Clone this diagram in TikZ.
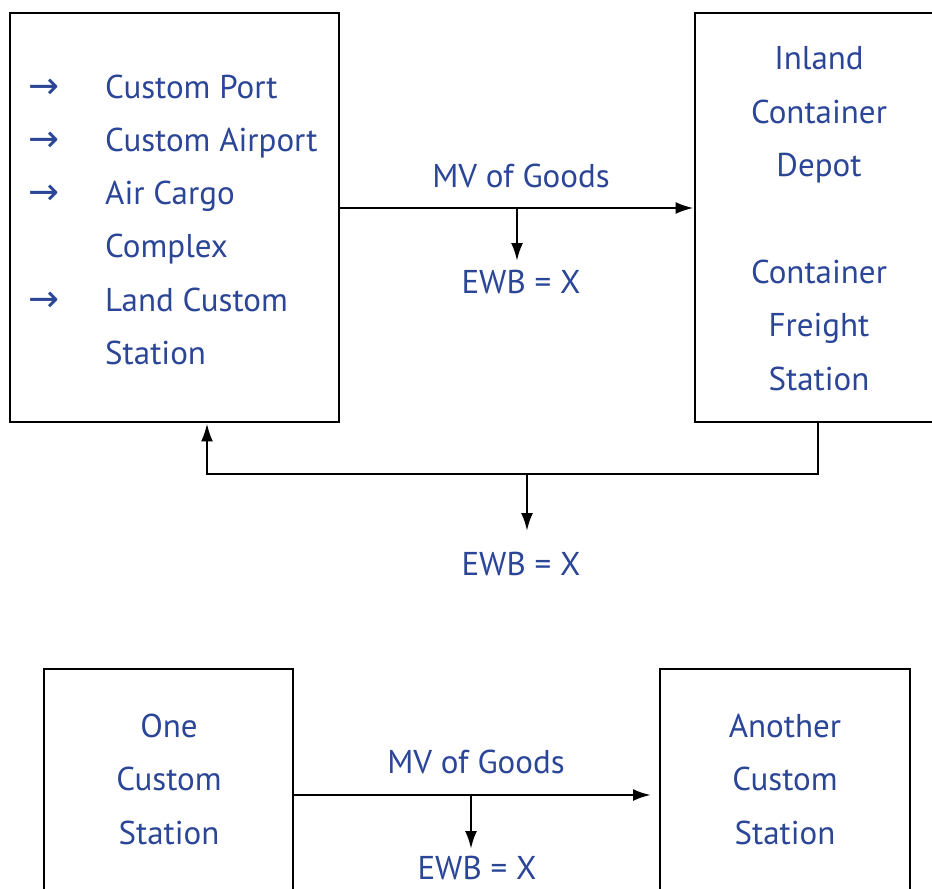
\documentclass[tikz,border=0pt]{standalone}
\usepackage{fontspec}
\setmainfont{PT Sans}
\newfontfamily\arrowfont{DejaVu Sans}
\usetikzlibrary{arrows.meta,calc}
\definecolor{txtblue}{HTML}{2B4597}
\begin{document}
\begin{tikzpicture}[x=1pt,y=-1pt,
  box/.style={draw=black,line width=2.8pt,fill=none,inner sep=0pt},
  lbl/.style={text=txtblue,font=\fontsize{33}{38}\selectfont,inner sep=0pt,anchor=base},
  lft/.style={lbl,anchor=base west},
  bul/.style={lft,font=\arrowfont\fontsize{37}{40}\selectfont},
  conn/.style={line width=2.6pt,draw=black},
  arr/.style={conn,-{Latex[length=18pt,width=12pt]}}]
\useasboundingbox (0,0) rectangle (932,889);
\clip (0,0) rectangle (932,889);
% boxes
\node[box,minimum width=329pt,minimum height=409pt] (b1) at (174.5,217.5) {};
\node[box,minimum width=270pt,minimum height=409pt] (b2) at (830,217.5) {};
\node[box,minimum width=249pt,minimum height=300pt] (b3) at (168.5,819) {};
\node[box,minimum width=250pt,minimum height=300pt] (b4) at (785,819) {};
% box 1 list
\foreach \yy/\n in {98/a1,151/a2,204/a3,311/a4}{
  \node[bul] (\n) at (28,\yy) {→};
}
\node[lft] (t1) at (105,98.5) {Custom Port};
\node[lft] (t2) at (105,151.5) {Custom Airport};
\node[lft] (t3) at (105,204.5) {Air Cargo};
\node[lft] (t4) at (105,257.5) {Complex};
\node[lft] (t5) at (105,311.5) {Land Custom};
\node[lft] (t6) at (105,364.5) {Station};
% box 2
\node[lbl] (r1) at (819,69.5) {Inland};
\node[lbl] (r2) at (819,123.5) {Container};
\node[lbl] (r3) at (819,176.5) {Depot};
\node[lbl] (r4) at (819,283.5) {Container};
\node[lbl] (r5) at (819,336.5) {Freight};
\node[lbl] (r6) at (819,390.5) {Station};
% box 3
\node[lbl] (l1) at (169,737.5) {One};
\node[lbl] (l2) at (169,790.5) {Custom};
\node[lbl] (l3) at (169,844.5) {Station};
% box 4
\node[lbl] (m1) at (785,737.5) {Another};
\node[lbl] (m2) at (785,790.5) {Custom};
\node[lbl] (m3) at (785,844.5) {Station};
% labels
\node[lbl] (mv1) at (521,187.5) {MV of Goods};
\node[lbl] (e1) at (521,293.5) {EWB = X};
\node[lbl] (e2) at (521,575.5) {EWB = X};
\node[lbl] (mv2) at (476,773.5) {MV of Goods};
\node[lbl] (e3) at (477,879.5) {EWB = X};
% coordinates
\coordinate (j1) at (517,208);
\coordinate (j1e) at (517,261);
\coordinate (fR) at (818,474);
\coordinate (fL) at (207,474);
\coordinate (j2) at (527,474);
\coordinate (j2e) at (527,531);
\coordinate (j3) at (471,795);
\coordinate (j3e) at (471,849);
\coordinate (end3) at (651,795);
% connectors
\draw[arr] (b1.east |- j1) -- (b2.west |- j1);
\draw[arr] (j1) -- (j1e);
\draw[arr] (b2.south -| fR) -- (fR) -- (fL) -- (b1.south -| fL);
\draw[arr] (j2) -- (j2e);
\draw[arr] (b3.east |- j3) -- (end3);
\draw[arr] (j3) -- (j3e);
\end{tikzpicture}
\end{document}
